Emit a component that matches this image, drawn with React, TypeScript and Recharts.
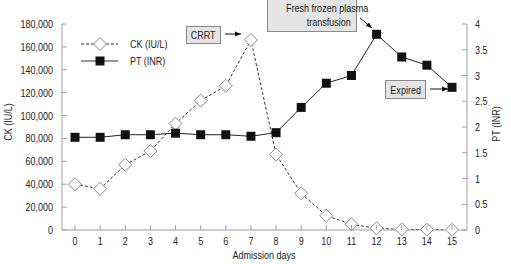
import React from "react";
import { ComposedChart, Line, XAxis, YAxis } from "recharts";

const days = [0, 1, 2, 3, 4, 5, 6, 7, 8, 9, 10, 11, 12, 13, 14, 15];
const ckValues = [40000, 36000, 57000, 69000, 93000, 113000, 126000, 166000, 66000, 32000, 12500, 5000, 1500, 500, 300, 200];
const ptValues = [1.8, 1.8, 1.85, 1.85, 1.88, 1.85, 1.85, 1.82, 1.89, 2.38, 2.85, 3.0, 3.8, 3.36, 3.2, 2.77];
const ckTicks = [0, 20000, 40000, 60000, 80000, 100000, 120000, 140000, 160000, 180000];
const ptTicks = [0, 0.5, 1, 1.5, 2, 2.5, 3, 3.5, 4];

const data = days.map((d, i) => ({ day: d, ck: ckValues[i], pt: ptValues[i] }));

const FONT = "'Liberation Sans', Arial, sans-serif";
const SX = 0.82;
const AXIS = "#a0a0a0";
const TXT = "#222";
const FS = 11;

const NText = (p: { x: number; y: number; anchor?: string; rotate?: number; children: React.ReactNode }) => (
  <text
    transform={`translate(${p.x},${p.y})${p.rotate ? ` rotate(${p.rotate})` : ""} scale(${SX},1)`}
    x={0}
    y={0}
    textAnchor={p.anchor || "start"}
    fontSize={FS}
    fill={TXT}
    fontFamily={FONT}
  >
    {p.children}
  </text>
);

const XTick = (p: any) => (
  <g>
    <line x1={p.x} x2={p.x} y1={p.y} y2={p.y - 5} stroke={AXIS} />
    <NText x={p.x} y={p.y + 15} anchor="middle">{p.payload.value}</NText>
  </g>
);

const LeftTick = (p: any) => (
  <g>
    <line x1={p.x} x2={p.x + 5} y1={p.y} y2={p.y} stroke={AXIS} />
    <NText x={p.x - 9} y={p.y + 4} anchor="end">{Number(p.payload.value).toLocaleString("en-US")}</NText>
  </g>
);

const RightTick = (p: any) => (
  <g>
    <line x1={p.x - 5} x2={p.x} y1={p.y} y2={p.y} stroke={AXIS} />
    <NText x={p.x + 8} y={p.y + 4} anchor="start">{p.payload.value}</NText>
  </g>
);

const Diamond = (p: any) => {
  const { cx, cy } = p;
  if (cx == null || cy == null) return <g />;
  const r = 6.5;
  return (
    <polygon
      points={`${cx},${cy - r} ${cx + r},${cy} ${cx},${cy + r} ${cx - r},${cy}`}
      fill="#fff"
      stroke="#888"
      strokeWidth={1}
    />
  );
};

const Square = (p: any) => {
  const { cx, cy } = p;
  if (cx == null || cy == null) return <g />;
  const s = 4.5;
  return <rect x={cx - s} y={cy - s} width={2 * s} height={2 * s} fill="#111" />;
};

const boxStyle: React.CSSProperties = {
  position: "absolute",
  background: "#e4e4e4",
  border: "1px solid #888",
  fontFamily: FONT,
  fontSize: FS,
  color: TXT,
  boxSizing: "border-box",
  lineHeight: "14px",
  whiteSpace: "nowrap",
};

const Narrow = (p: { origin: string; children: React.ReactNode }) => (
  <span style={{ display: "inline-block", transform: `scaleX(${SX})`, transformOrigin: p.origin }}>{p.children}</span>
);

export default function App() {
  return (
    <div style={{ position: "absolute", left: 0, top: 0, width: 511, height: 264, background: "#fff" }}>
      <ComposedChart
        width={511}
        height={264}
        data={data}
        margin={{ top: 24, right: 0, bottom: 0, left: 0 }}
      >
        <XAxis
          dataKey="day"
          height={34}
          stroke={AXIS}
          tickLine={false}
          tickSize={0}
          tickMargin={0}
          tick={<XTick />}
          interval={0}
          padding={{ left: 13, right: 15 }}
        />
        <YAxis
          yAxisId="ck"
          width={62}
          domain={[0, 180000]}
          ticks={ckTicks}
          stroke={AXIS}
          tickLine={false}
          tickSize={0}
          tickMargin={0}
          tick={<LeftTick />}
          interval={0}
        />
        <YAxis
          yAxisId="pt"
          orientation="right"
          width={44}
          domain={[0, 4]}
          ticks={ptTicks}
          stroke={AXIS}
          tickLine={false}
          tickSize={0}
          tickMargin={0}
          tick={<RightTick />}
          interval={0}
        />
        <Line
          yAxisId="ck"
          dataKey="ck"
          stroke="#333"
          strokeWidth={1}
          strokeDasharray="3 2"
          dot={<Diamond />}
          isAnimationActive={false}
        />
        <Line
          yAxisId="pt"
          dataKey="pt"
          stroke="#222"
          strokeWidth={1}
          dot={<Square />}
          isAnimationActive={false}
        />
      </ComposedChart>

      <div style={{ ...boxStyle, left: 186, top: 26, width: 35, height: 18, textAlign: "center", paddingTop: 1 }}>
        <Narrow origin="center">CRRT</Narrow>
      </div>
      <div style={{ ...boxStyle, left: 267, top: -1, width: 90, height: 33, textAlign: "right", padding: "1px 5px 0 0" }}>
        <Narrow origin="right">Fresh frozen plasma</Narrow>
        <br />
        <Narrow origin="right">transfusion</Narrow>
      </div>
      <div style={{ ...boxStyle, left: 385, top: 80, width: 41, height: 19, textAlign: "center", paddingTop: 2 }}>
        <Narrow origin="center">Expired</Narrow>
      </div>

      <svg width={511} height={264} style={{ position: "absolute", left: 0, top: 0, pointerEvents: "none" }}>
        <defs>
          <marker id="ah" viewBox="0 0 10 10" refX="10" refY="5" markerWidth="6" markerHeight="6" orient="auto">
            <path d="M0,1 L10,5 L0,9 z" fill="#111" />
          </marker>
        </defs>
        <line x1={225} y1={34} x2={241} y2={34} stroke="#111" markerEnd="url(#ah)" />
        <line x1={360} y1={18} x2={372} y2={28} stroke="#111" markerEnd="url(#ah)" />
        <line x1={430} y1={89} x2={448} y2={89} stroke="#111" markerEnd="url(#ah)" />

        <line x1={81} x2={118} y1={44} y2={44} stroke="#333" strokeDasharray="3 2" />
        <polygon points="100,37.5 106.5,44 100,50.5 93.5,44" fill="#fff" stroke="#888" />
        <NText x={130} y={48}>CK (IU/L)</NText>
        <line x1={81} x2={118} y1={61} y2={61} stroke="#333" />
        <rect x={95.5} y={56.5} width={9} height={9} fill="#111" />
        <NText x={130} y={65}>PT (INR)</NText>

        <NText x={12} y={122} anchor="middle" rotate={-90}>CK (IU/L)</NText>
        <NText x={500} y={124} anchor="middle" rotate={-90}>PT (INR)</NText>
        <NText x={264} y={259} anchor="middle">Admission days</NText>
      </svg>
    </div>
  );
}
